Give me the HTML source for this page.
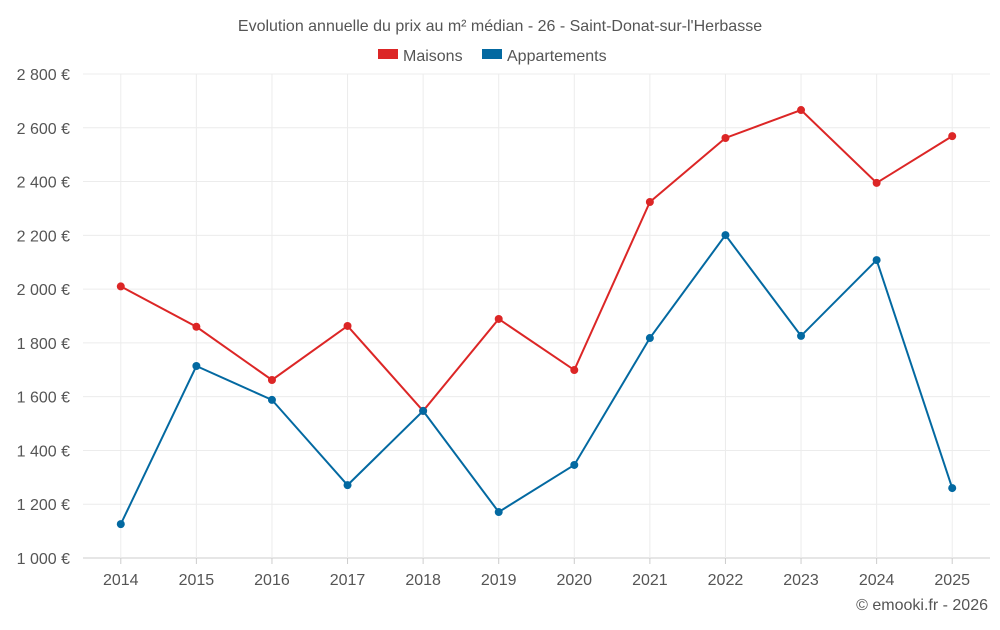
<!DOCTYPE html>
<html><head><meta charset="utf-8"><style>
body{margin:0;background:#fff;font-family:"Liberation Sans",sans-serif}
svg text{font-family:"Liberation Sans",sans-serif;fill:#555}
</style></head><body>
<svg id="c" width="1000" height="625">
<text x="500" y="31" text-anchor="middle" font-size="16">Evolution annuelle du prix au m² médian - 26 - Saint-Donat-sur-l'Herbasse</text>
<g><rect x="378" y="49" width="20" height="10" fill="#dc2626"/><text x="403" y="61" font-size="16">Maisons</text></g>
<g><rect x="482" y="49" width="20" height="10" fill="#0369a1"/><text x="507" y="61" font-size="16">Appartements</text></g>
<g id="grid"></g><g id="series"></g>
<text x="988" y="610" text-anchor="end" font-size="16">© emooki.fr - 2026</text>
</svg>
<script>
const years=['2014','2015','2016','2017','2018','2019','2020','2021','2022','2023','2024','2025'];
const maisons=[2010,1860,1662,1863,1547,1889,1699,2324,2562,2666,2395,2569];
const appartements=[1126,1714,1588,1271,1547,1171,1346,1818,2201,1826,2108,1260];
const yTicks=[1000,1200,1400,1600,1800,2000,2200,2400,2600,2800];
const yLabels=['1 000 €','1 200 €','1 400 €','1 600 €','1 800 €','2 000 €','2 200 €','2 400 €','2 600 €','2 800 €'];
const NS='http://www.w3.org/2000/svg';
const L=83,R=990,T=74,B=558;
const y=v=>B-(v-1000)/1800*(B-T);
const step=(R-L)/years.length;
const x=i=>L+step*(i+0.5);
const g=document.getElementById('grid'),s=document.getElementById('series');
function mk(tag,at,p){const e=document.createElementNS(NS,tag);for(const k in at)e.setAttribute(k,at[k]);p.appendChild(e);return e;}
yTicks.forEach((v,i)=>{
 const ln=mk('line',{x1:L,x2:R,y1:y(v),y2:y(v),stroke:i?'#ececec':'#ccc'},g);
 
 
 const t=mk('text',{x:70,y:y(v)+6,'text-anchor':'end','font-size':16},g);t.textContent=yLabels[i];
 
 
});
years.forEach((yr,i)=>{
 const ln=mk('line',{x1:x(i),x2:x(i),y1:T,y2:B,stroke:'#ececec'},g);
 
 
 const tk=mk('line',{x1:x(i),x2:x(i),y1:B,y2:B+6,stroke:'#ccc'},g);
 
 
 const t=mk('text',{x:x(i),y:585,'text-anchor':'middle','font-size':16},g);t.textContent=yr;
 
 
});
[[maisons,'#dc2626','maisons'],[appartements,'#0369a1','appartements']].forEach(([d,c,n])=>{
 const p=mk('polyline',{points:d.map((v,i)=>x(i)+','+y(v)).join(' '),fill:'none',stroke:c,'stroke-width':2},s);
 
 
 d.forEach((v,i)=>{const ci=mk('circle',{cx:x(i),cy:y(v),r:4,fill:c},s);
  
  });
});
</script>
</body></html>
